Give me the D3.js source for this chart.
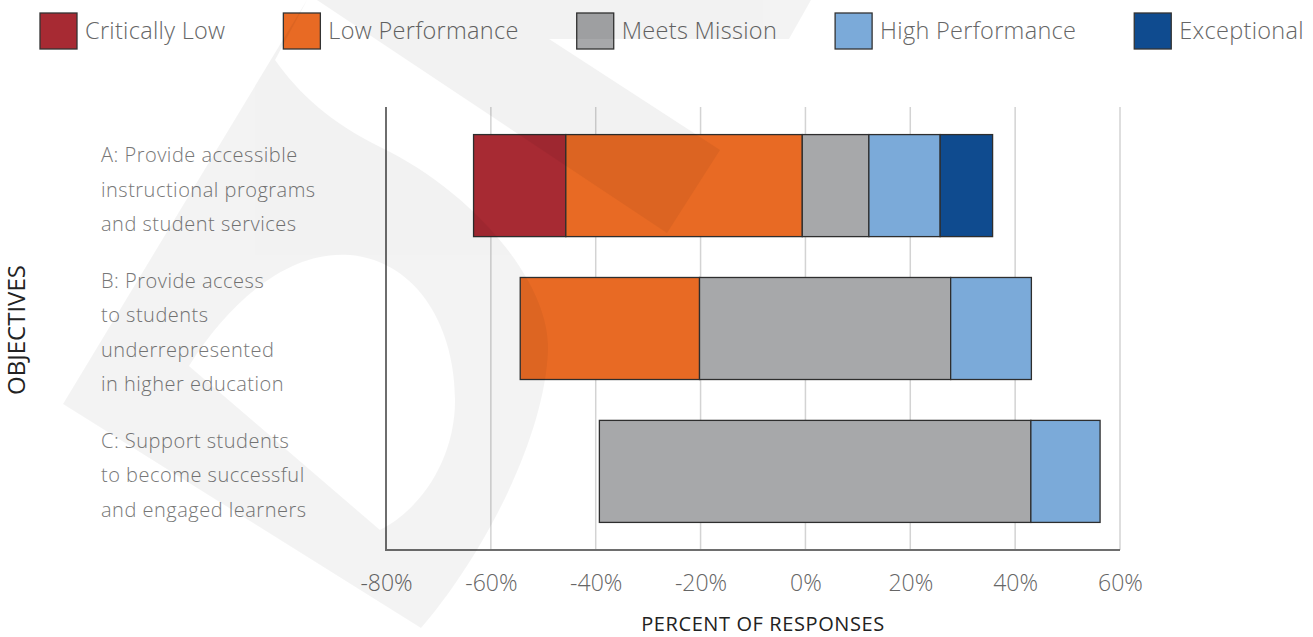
<!DOCTYPE html>
<html>
<head>
<meta charset="utf-8">
<script src="https://cdn.jsdelivr.net/npm/d3@7"></script>
<style>
  html, body { margin: 0; padding: 0; background: #fff; }
  svg { display: block; font-family: "Open Sans", Lato, sans-serif; }
</style>
</head>
<body>
<svg id="chart" width="1313" height="637"></svg>
<script>
// Objectives survey: stacked bars, each row offset so the low ratings sit left of zero
const objectives = [
  ["A: Provide accessible", "instructional programs", "and student services"],
  ["B: Provide access", "to students", "underrepresented", "in higher education"],
  ["C: Support students", "to become successful", "and engaged learners"]
];
const seriesNames = ["Critically Low", "Low Performance", "Meets Mission", "High Performance", "Exceptional"];
const seriesColors = ["#a72a33", "#e86a24", "#a7a8aa", "#7baad9", "#0f4b8f"];

// percent of responses per objective (A, B, C)
const criticallyLow = [17.6, 0, 0];
const lowPerformance = [45.1, 34.2, 0];
const meetsMission = [12.7, 47.9, 82.3];
const highPerformance = [13.6, 15.4, 13.2];
const exceptional = [10.0, 0, 0];
// left edge of each bar, in percent
const barStart = [-63.3, -54.4, -39.3];

const xTicks = [-80, -60, -40, -20, 0, 20, 40, 60];

const svg = d3.select("#chart");
const FONT = "'Open Sans', Lato, sans-serif";

const rows = objectives.map((lines, i) => ({
  key: i,
  "Critically Low": criticallyLow[i],
  "Low Performance": lowPerformance[i],
  "Meets Mission": meetsMission[i],
  "High Performance": highPerformance[i],
  "Exceptional": exceptional[i]
}));

const x = d3.scaleLinear().domain([-80, 60]).range([386, 1120]);
const y = d3.scaleBand()
  .domain(rows.map(d => d.key))
  .range([107, 550])
  .paddingInner(0.286)
  .paddingOuter(0.193);
const color = d3.scaleOrdinal().domain(seriesNames).range(seriesColors);

// gridlines
svg.append("g")
  .selectAll("line")
  .data(xTicks.slice(1))
  .join("line")
  .attr("x1", d => x(d)).attr("x2", d => x(d))
  .attr("y1", 107).attr("y2", 550)
  .attr("stroke", "#d3d3d3")
  .attr("stroke-width", 1.5);

// bars
const stacked = d3.stack().keys(seriesNames)(rows);
const layers = svg.append("g")
  .selectAll("g")
  .data(stacked)
  .join("g")
  .attr("fill", d => color(d.key));

layers.selectAll("rect")
  .data(d => d.filter(s => s[1] - s[0] > 0))
  .join("rect")
  .attr("x", d => x(barStart[d.data.key] + d[0]))
  .attr("width", d => x(barStart[d.data.key] + d[1]) - x(barStart[d.data.key] + d[0]))
  .attr("y", d => y(d.data.key))
  .attr("height", y.bandwidth())
  .attr("stroke", "#2e2e2e")
  .attr("stroke-width", 1.3);

// axis lines
const axisG = svg.append("g").attr("stroke", "#6e6e6e").attr("stroke-width", 2);
axisG.append("line").attr("x1", x(-80)).attr("x2", x(-80)).attr("y1", 107).attr("y2", 550);
axisG.append("line").attr("x1", x(-80) - 1).attr("x2", x(60)).attr("y1", 550).attr("y2", 550);

// tick labels
const xAxis = d3.axisBottom(x)
  .tickValues(xTicks)
  .tickFormat(d => d + "%")
  .tickSize(0)
  .tickPadding(25);
const xg = svg.append("g").attr("transform", "translate(0,550)").call(xAxis);
xg.select(".domain").remove();
xg.selectAll("text")
  .attr("fill", "#666")
  .style("font-size", "23px")
  .style("font-family", FONT)
  .style("font-weight", 300);

// category labels
const lineH = 34.4;
const labelG = svg.append("g");
objectives.forEach((lines, i) => {
  const cy = y(i) + y.bandwidth() / 2 + 4;
  const top = cy - (lines.length - 1) * lineH / 2;
  labelG.append("text")
    .attr("fill", "#777")
    .style("font-size", "20px")
    .style("letter-spacing", "0.5px")
    .style("font-weight", 300)
    .selectAll("tspan")
    .data(lines)
    .join("tspan")
    .attr("x", 101)
    .attr("y", (d, j) => top + j * lineH)
    .attr("dy", "0.35em")
    .text(d => d);
});

// axis titles
svg.append("text")
  .attr("x", 763).attr("y", 624)
  .attr("dy", "0.35em")
  .attr("text-anchor", "middle")
  .attr("fill", "#222")
  .style("font-size", "20px")
  .style("letter-spacing", "0.6px")
  .text("PERCENT OF RESPONSES");

svg.append("text")
  .attr("transform", "translate(17,330) rotate(-90)")
  .attr("dy", "0.35em")
  .attr("text-anchor", "middle")
  .attr("fill", "#222")
  .style("font-size", "24px")
  .text("OBJECTIVES");

// legend, flowing left to right
const legend = svg.append("g");
let lx = 40;
seriesNames.forEach(name => {
  const item = legend.append("g").attr("transform", `translate(${lx},13)`);
  item.append("rect")
    .attr("width", 37).attr("height", 36)
    .attr("fill", color(name))
    .attr("stroke", "#333")
    .attr("stroke-width", 1.3);
  const t = item.append("text")
    .attr("x", 45).attr("y", 18)
    .attr("dy", "0.35em")
    .attr("fill", "#666")
    .style("font-size", "23.5px")
    .style("letter-spacing", "0.3px")
    .style("font-weight", 300)
    .text(name);
  lx += 45 + t.node().getComputedTextLength() + 58;
});

// faint logo watermark laid over everything
const mark = svg.append("g").attr("opacity", 0.047).attr("fill", "#000").style("pointer-events", "none");
mark.append("path")
  .attr("d", "M317,0 L811,0 L789,39 L549,39 L720,150 L667,233 Z");
mark.append("path")
  .attr("fill-rule", "evenodd")
  .attr("d",
    "M307,0 L63,404 L421,628 C480,560 545,440 548,350 C550,280 470,190 380,147 C330,122 300,95 275,60 Z " +
    "M189,366 C230,300 290,250 350,255 C420,262 455,330 455,400 C455,460 420,510 380,530 Z");
</script>
</body>
</html>
